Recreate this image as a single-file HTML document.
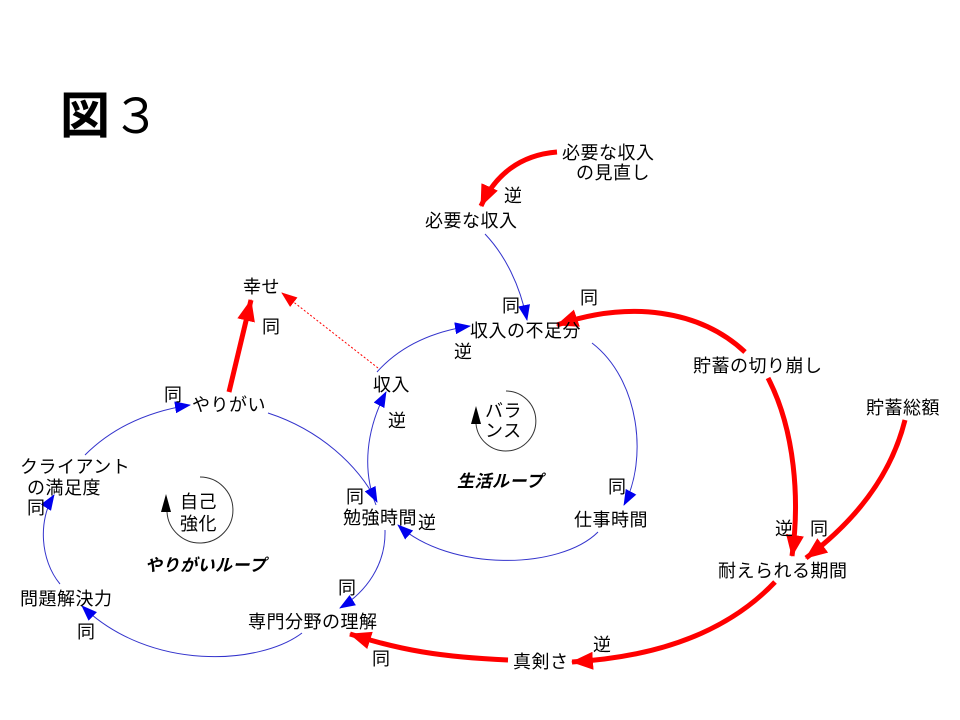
<!DOCTYPE html>
<html><head><meta charset="utf-8"><style>
body{margin:0;background:#fff;}
svg{display:block;}
text{font-family:"Liberation Sans","Noto Sans CJK JP",sans-serif;font-size:18px;letter-spacing:0.5px;fill:#000;}
</style></head><body>
<svg width="960" height="720" viewBox="0 0 960 720" xmlns="http://www.w3.org/2000/svg">
<defs>
<marker id="b" markerUnits="userSpaceOnUse" markerWidth="16" markerHeight="12" refX="15" refY="6" orient="auto"><path d="M0,0 L16,6 L0,12 z" fill="#0000ee"/></marker>
<marker id="r" markerUnits="userSpaceOnUse" markerWidth="22" markerHeight="18" refX="21" refY="9" orient="auto"><path d="M0,0 L22,9 L0,18 z" fill="#ff0000"/></marker>
<marker id="rs" markerUnits="userSpaceOnUse" markerWidth="16" markerHeight="12" refX="15" refY="6" orient="auto"><path d="M0,0 L16,6 L0,12 z" fill="#ff0000"/></marker>
</defs>
<text x="60" y="133" style="font-size:50px;font-weight:bold;letter-spacing:0">図</text>
<text x="112" y="133" style="font-size:48px;letter-spacing:0">３</text>

<g fill="none" stroke="#3333cc" stroke-width="1">
<path d="M485,234 C505,255 520,285 527,320" marker-end="url(#b)"/>
<path d="M377,372 Q410,335 470,326" marker-end="url(#b)"/>
<path d="M592,343 C640,380 648,460 624,505" marker-end="url(#b)"/>
<path d="M598,532 C560,570 450,572 398,525" marker-end="url(#b)"/>
<path d="M376,505 C362,470 366,430 386,392" marker-end="url(#b)"/>
<path d="M268,413 C320,430 358,465 377,502" marker-end="url(#b)"/>
<path d="M385,530 C386,565 366,592 340,608" marker-end="url(#b)"/>
<path d="M302,633 C260,665 150,672 82,606" marker-end="url(#b)"/>
<path d="M60,584 C40,560 38,520 54,495" marker-end="url(#b)"/>
<path d="M85,455 Q125,415 190,405" marker-end="url(#b)"/>
</g>

<g fill="none" stroke="#ff0000" stroke-width="5">
<path d="M557,152 C520,155 495,175 481,206" marker-end="url(#r)"/>
<path d="M745,352 C700,310 630,300 557,325" marker-end="url(#r)"/>
<path d="M768,378 C795,430 800,500 792,556" marker-end="url(#r)"/>
<path d="M905,420 C890,480 850,525 806,558" marker-end="url(#r)"/>
<path d="M775,582 C720,640 640,658 572,662" marker-end="url(#r)"/>
<path d="M508,660 C440,657 400,650 350,634" marker-end="url(#r)"/>
<path d="M229,392 L251,300" marker-end="url(#r)"/>
</g>
<path d="M378,368 L282,293" fill="none" stroke="#ff0000" stroke-width="1" stroke-dasharray="2,2" marker-end="url(#rs)"/>

<g fill="none" stroke="#333" stroke-width="1">
<path d="M200,477 A33,33 0 1 1 167,512"/>
<path d="M506,391 A30,30 0 1 1 476,424"/>
</g>
<path d="M161,512 L166,494 L171,512 z" fill="#000"/>
<path d="M471,424 L476,406 L481,424 z" fill="#000"/>

<text x="562" y="159">必要な収入</text>
<text x="576" y="179">の見直し</text>
<text x="504" y="202">逆</text>
<text x="425" y="227">必要な収入</text>
<text x="243" y="293">幸せ</text>
<text x="262" y="333">同</text>
<text x="502" y="312">同</text>
<text x="580" y="304">同</text>
<text x="470" y="337">収入の不足分</text>
<text x="454" y="358">逆</text>
<text x="693" y="372">貯蓄の切り崩し</text>
<text x="373" y="391">収入</text>
<text x="388" y="427">逆</text>
<text x="866" y="414">貯蓄総額</text>
<text x="164" y="401">同</text>
<text x="192" y="411">やりがい</text>
<text x="20" y="473">クライアント</text>
<text x="27" y="494">の満足度</text>
<text x="27" y="514">同</text>
<text x="180" y="508">自己</text>
<text x="180" y="530">強化</text>
<text x="485" y="417">バラ</text>
<text x="485" y="437">ンス</text>
<text x="457" y="487" style="font-size:17px;font-weight:bold;font-style:italic">生活ループ</text>
<text x="145" y="571" style="font-size:17px;font-weight:bold;font-style:italic">やりがいループ</text>
<text x="346" y="503">同</text>
<text x="343" y="524">勉強時間</text>
<text x="418" y="529">逆</text>
<text x="608" y="493">同</text>
<text x="574" y="526">仕事時間</text>
<text x="775" y="535">逆</text>
<text x="810" y="535">同</text>
<text x="718" y="577">耐えられる期間</text>
<text x="338" y="594">同</text>
<text x="20" y="605">問題解決力</text>
<text x="248" y="628">専門分野の理解</text>
<text x="77" y="638">同</text>
<text x="593" y="651">逆</text>
<text x="372" y="665">同</text>
<text x="513" y="668">真剣さ</text>
</svg>
</body></html>
